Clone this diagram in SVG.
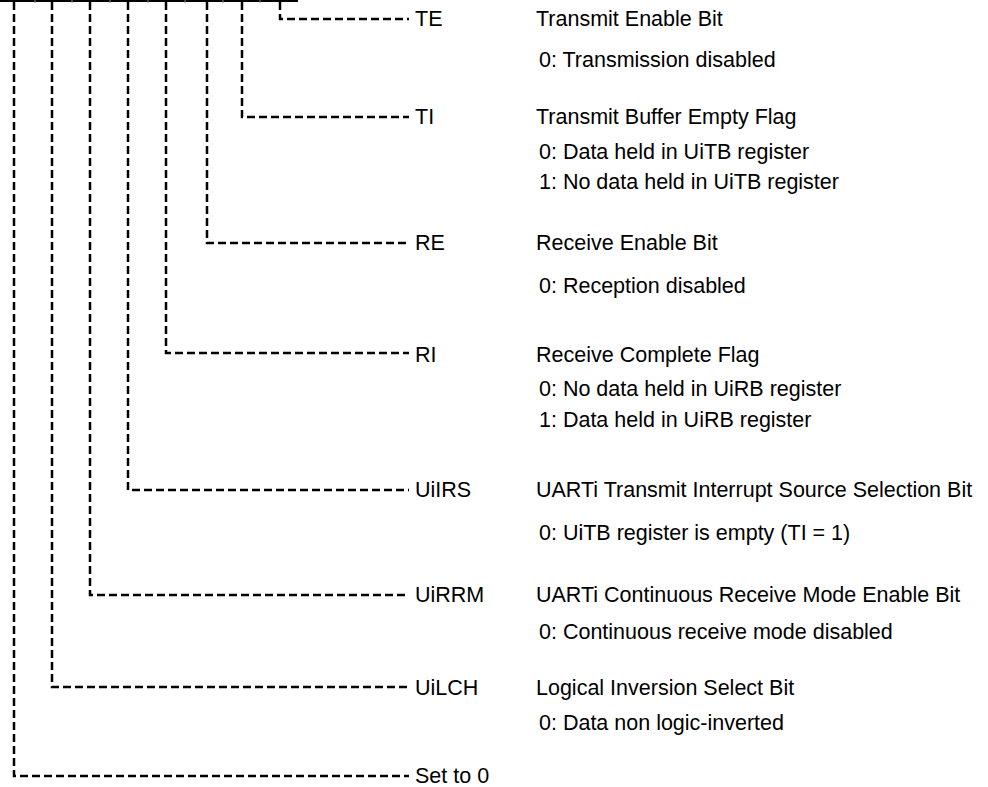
<svg xmlns="http://www.w3.org/2000/svg" width="988" height="787" viewBox="0 0 988 787">
<style>
.c{fill:none;stroke:#000;stroke-width:2.5;stroke-dasharray:8 4}
.t{font-family:"Liberation Sans",Arial,sans-serif;font-size:21.5px;fill:#000}
</style>
<rect width="988" height="787" fill="#fff"/>
<g id="register-top">
<line x1="0" y1="1" x2="298" y2="1" stroke="#000" stroke-width="2"/>
<path d="M35 0v3M72 0v3M110 0v3M148 0v3M185 0v3M223 0v3M260 0v3" stroke="#888" stroke-width="1"/>
</g>
<g id="connectors">
<path class="c" d="M280 2V19H409"/>
<path class="c" d="M242 2V117H409"/>
<path class="c" d="M207 2V243H409"/>
<path class="c" d="M166 2V353H409"/>
<path class="c" d="M128 2V490H409"/>
<path class="c" d="M90 2V595H409"/>
<path class="c" d="M52 2V687H409"/>
<path class="c" d="M14 2V776H409"/>
</g>
<g id="TE"><text class="t" x="415" y="26">TE</text><text class="t" x="536" y="26">Transmit Enable Bit</text><text class="t" x="539" y="67">0: Transmission disabled</text></g>
<g id="TI"><text class="t" x="415" y="124">TI</text><text class="t" x="536" y="124">Transmit Buffer Empty Flag</text><text class="t" x="539" y="159">0: Data held in UiTB register</text><text class="t" x="539" y="189">1: No data held in UiTB register</text></g>
<g id="RE"><text class="t" x="415" y="250">RE</text><text class="t" x="536" y="250">Receive Enable Bit</text><text class="t" x="539" y="293">0: Reception disabled</text></g>
<g id="RI"><text class="t" x="415" y="362">RI</text><text class="t" x="536" y="362">Receive Complete Flag</text><text class="t" x="539" y="396">0: No data held in UiRB register</text><text class="t" x="539" y="427">1: Data held in UiRB register</text></g>
<g id="UiIRS"><text class="t" x="415" y="497">UiIRS</text><text class="t" x="536" y="497">UARTi Transmit Interrupt Source Selection Bit</text><text class="t" x="539" y="540">0: UiTB register is empty (TI = 1)</text></g>
<g id="UiRRM"><text class="t" x="415" y="602">UiRRM</text><text class="t" x="536" y="602">UARTi Continuous Receive Mode Enable Bit</text><text class="t" x="539" y="639">0: Continuous receive mode disabled</text></g>
<g id="UiLCH"><text class="t" x="415" y="695">UiLCH</text><text class="t" x="536" y="695">Logical Inversion Select Bit</text><text class="t" x="539" y="730">0: Data non logic-inverted</text></g>
<g id="Set0"><text class="t" x="415" y="783">Set to 0</text></g>
</svg>
